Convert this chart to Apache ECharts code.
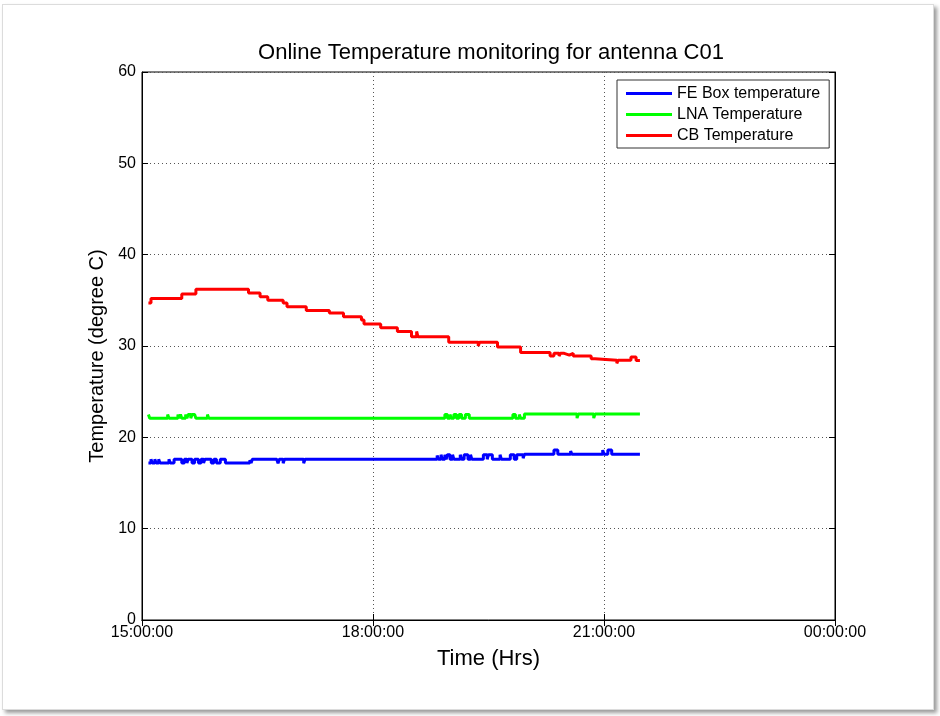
<!DOCTYPE html>
<html lang="en">
<head>
    <meta charset="UTF-8">
    <title>Online Temperature monitoring for antenna C01</title>
    <script src="https://cdn.jsdelivr.net/npm/echarts@6/dist/echarts.min.js"></script>
    <style>
        body { margin: 0; background: #ffffff; }
        #frame { position: absolute; left: 2px; top: 4px; width: 930px; height: 704px;
                 border: 1px solid #dcdcdc; box-shadow: 3px 3px 4px #9a9a9a; background: #fff; }
        #chart { position: absolute; left: 0; top: 0; width: 940px; height: 716px; }
    </style>
</head>
<body>
<div id="frame"></div>
<div id="chart"></div>
<script type="text/javascript">
    // tick labels on the time axis (hours 15..24)
    var timeTicks = ['15:00:00', '18:00:00', '21:00:00', '00:00:00'];

    // FE Box temperature : time it changed, new value
    var feTimes = ['15:05', '15:07', '15:08', '15:10', '15:11', '15:13', '15:14', '15:21', '15:22', '15:25',
        '15:31', '15:33', '15:35', '15:36', '15:39', '15:41', '15:44', '15:46', '15:48', '15:49',
        '15:54', '15:56', '15:58', '16:01', '16:05', '16:24', '16:25', '16:26', '16:31', '16:45',
        '16:46', '16:47', '16:50', '16:51', '17:06', '17:07', '18:48', '18:50', '18:51', '18:53',
        '18:54', '18:56', '18:57', '18:58', '19:00', '19:02', '19:03', '19:06', '19:08', '19:09',
        '19:11', '19:14', '19:16', '19:17', '19:20', '19:26', '19:29', '19:30', '19:33', '19:37',
        '19:39', '19:40', '19:42', '19:47', '19:50', '19:52', '19:55', '19:57', '19:58', '20:21',
        '20:24', '20:34', '20:35', '20:59', '21:00', '21:03', '21:06', '21:28'];
    var feValues = [17.2, 17.6, 17.2, 17.6, 17.2, 17.6, 17.2, 17.6, 17.2, 17.6,
        17.2, 17.6, 17.2, 17.6, 17.2, 17.6, 17.2, 17.6, 17.2, 17.6,
        17.2, 17.6, 17.2, 17.6, 17.2, 17.5, 17.2, 17.6, 17.6, 17.6,
        17.15, 17.6, 17.15, 17.6, 17.15, 17.6, 17.6, 18.0, 17.6, 18.1,
        17.6, 18.1, 17.6, 18.1, 17.6, 18.1, 17.6, 17.6, 18.1, 17.6,
        18.1, 17.6, 18.1, 17.6, 17.6, 18.1, 17.6, 18.1, 17.6, 17.6,
        18.1, 17.6, 17.6, 18.1, 17.6, 18.1, 18.1, 17.7, 18.15, 18.6,
        18.15, 18.5, 18.15, 18.6, 18.15, 18.6, 18.15, 18.15];

    // LNA Temperature
    var lnaTimes = ['15:05', '15:06', '15:20', '15:21', '15:28', '15:29', '15:30', '15:31', '15:34', '15:35',
        '15:36', '15:38', '15:39', '15:41', '15:42', '15:44', '15:51', '15:52', '18:56', '18:58',
        '19:00', '19:01', '19:03', '19:05', '19:07', '19:09', '19:12', '19:15', '19:49', '19:51',
        '19:54', '19:55', '19:58', '20:39', '20:40', '20:52', '20:53', '21:28'];
    var lnaValues = [22.5, 22.1, 22.5, 22.1, 22.5, 22.1, 22.5, 22.1, 22.5, 22.1,
        22.5, 22.1, 22.5, 22.5, 22.1, 22.1, 22.5, 22.1, 22.5, 22.1,
        22.5, 22.1, 22.5, 22.1, 22.5, 22.1, 22.5, 22.1, 22.5, 22.1,
        22.5, 22.1, 22.55, 22.1, 22.55, 22.1, 22.55, 22.55];

    // CB Temperature
    var cbTimes = ['15:05', '15:07', '15:31', '15:42', '16:23', '16:32', '16:38', '16:50', '16:53', '17:08',
        '17:26', '17:37', '17:51', '17:53', '18:06', '18:19', '18:30', '18:34', '18:35', '18:59',
        '19:22', '19:23', '19:37', '19:55', '20:18', '20:21', '20:25', '20:26', '20:29', '20:33',
        '20:36', '20:38', '20:42', '20:50', '20:53', '21:10', '21:11', '21:18', '21:21', '21:25',
        '21:28'];
    var cbValues = [34.7, 35.2, 35.7, 36.2, 35.8, 35.4, 35.0, 34.7, 34.3, 33.9,
        33.6, 33.2, 32.85, 32.4, 32.0, 31.6, 31.0, 31.6, 31.0, 30.4,
        30.0, 30.4, 29.9, 29.3, 28.9, 29.2, 28.9, 29.2, 29.0, 29.2,
        28.9, 28.9, 28.9, 28.6, 28.45, 28.1, 28.45, 28.45, 28.8, 28.4,
        28.4];

    function toHours(s) {
        var p = s.split(':');
        return +p[0] + (+p[1]) / 60;
    }
    function pairs(times, values) {
        return times.map(function (t, i) { return [toHours(t), values[i]]; });
    }

    var font = '"Liberation Sans", Arial, sans-serif';
    var dom = document.getElementById('chart');
    var tempChart = echarts.init(dom);

    var option = {
        animation: false,
        title: {
            text: 'Online Temperature monitoring for antenna C01',
            left: 486, top: 37, textAlign: 'center',
            textStyle: { fontFamily: font, fontSize: 22, fontWeight: 'normal', color: '#000' }
        },
        legend: {
            left: 617, top: 80,
            orient: 'vertical',
            icon: 'rect',
            backgroundColor: '#fff',
            borderColor: '#333', borderWidth: 1, borderRadius: 0,
            padding: [4, 9, 3, 9],
            itemWidth: 46, itemHeight: 3, itemGap: 2,
            textStyle: { fontFamily: font, fontSize: 16, color: '#000', lineHeight: 19 },
            data: ['FE Box temperature', 'LNA Temperature', 'CB Temperature']
        },
        grid: { left: 142, right: 105, top: 72, bottom: 96, show: true, borderColor: '#000', borderWidth: 1 },
        xAxis: [{
            type: 'value', min: 15, max: 24, interval: 3,
            name: 'Time (Hrs)', nameLocation: 'middle', nameGap: 28,
            nameTextStyle: { fontFamily: font, fontSize: 22, color: '#000' },
            axisLine: { show: true, lineStyle: { color: '#000' } },
            axisTick: { inside: true, length: 6, lineStyle: { color: '#000' } },
            axisLabel: {
                fontFamily: font, fontSize: 16, color: '#000', margin: 5,
                formatter: function (v) { return timeTicks[(v - 15) / 3]; }
            },
            splitLine: { show: true, lineStyle: { color: '#555', type: [1, 3], width: 1 } }
        }, {
            type: 'value', min: 15, max: 24, interval: 3, position: 'top',
            axisLine: { show: true, lineStyle: { color: '#000' } },
            axisTick: { inside: true, length: 6, lineStyle: { color: '#000' } },
            axisLabel: { show: false }, splitLine: { show: false }
        }],
        yAxis: [{
            type: 'value', min: 0, max: 60, interval: 10,
            name: 'Temperature (degree C)', nameLocation: 'middle', nameGap: 33,
            nameTextStyle: { fontFamily: font, fontSize: 20, color: '#000', padding: [0, 20, 0, 0] },
            axisLine: { show: true, lineStyle: { color: '#000' } },
            axisTick: { inside: true, length: 6, lineStyle: { color: '#000' } },
            axisLabel: { fontFamily: font, fontSize: 16, color: '#000', margin: 6 },
            splitLine: { show: true, lineStyle: { color: '#555', type: [1, 3], width: 1 } }
        }, {
            type: 'value', min: 0, max: 60, interval: 10, position: 'right',
            axisLine: { show: true, lineStyle: { color: '#000' } },
            axisTick: { inside: true, length: 6, lineStyle: { color: '#000' } },
            axisLabel: { show: false }, splitLine: { show: false }
        }],
        series: [{
            name: 'FE Box temperature', type: 'line', step: 'end', symbol: 'none',
            itemStyle: { color: '#0000ff' }, lineStyle: { color: '#0000ff', width: 3 },
            data: pairs(feTimes, feValues)
        }, {
            name: 'LNA Temperature', type: 'line', step: 'end', symbol: 'none',
            itemStyle: { color: '#00ff00' }, lineStyle: { color: '#00ff00', width: 3 },
            data: pairs(lnaTimes, lnaValues)
        }, {
            name: 'CB Temperature', type: 'line', step: 'end', symbol: 'none',
            itemStyle: { color: '#ff0000' }, lineStyle: { color: '#ff0000', width: 3 },
            data: pairs(cbTimes, cbValues)
        }]
    };
    tempChart.setOption(option);
</script>
</body>
</html>
